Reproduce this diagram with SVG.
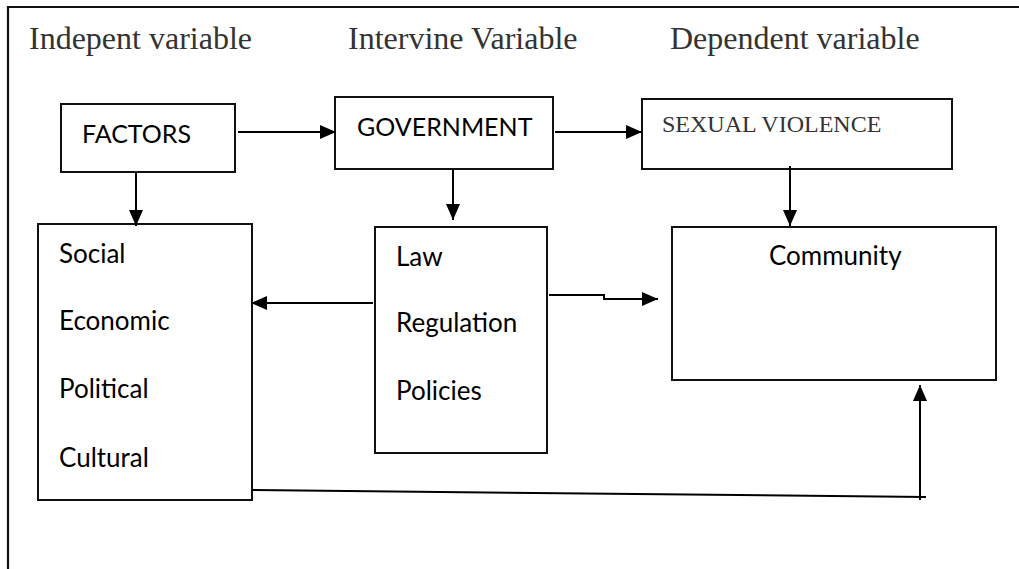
<svg xmlns="http://www.w3.org/2000/svg" width="1019" height="569" viewBox="0 0 1019 569">
  <style>
    .box { fill: #fff; stroke: #111; stroke-width: 2; }
    .hdr { font-family: "Liberation Serif", "Times New Roman", serif; font-size: 32px; fill: #333; }
    .lbl { font-family: "Lato", "Liberation Sans", sans-serif; font-size: 26px; fill: #000; }
    .cap { font-size: 25px; }
    .ser { font-family: "Liberation Serif", "Times New Roman", serif; font-size: 24px; fill: #333; }
    .con { fill: none; stroke: #000; stroke-width: 2; }
  </style>
  <defs>
    <marker id="arr" viewBox="0 0 16 14" refX="16" refY="7" markerWidth="16" markerHeight="14" markerUnits="userSpaceOnUse" orient="auto">
      <path d="M0,0 L16,7 L0,14 Z" fill="#000"/>
    </marker>
  </defs>
  <rect x="0" y="0" width="1019" height="569" fill="#fff"/>
  <path d="M8,569 V7 H1019" fill="none" stroke="#111" stroke-width="2.2"/>
  <g id="headers">
    <text class="hdr" x="29" y="49">Indepent variable</text>
    <text class="hdr" x="348" y="49">Intervine Variable</text>
    <text class="hdr" x="670" y="49">Dependent variable</text>
  </g>
  <g id="factors">
    <rect class="box" x="61" y="104" width="174" height="68"/>
    <text class="lbl cap" x="82" y="143">FACTORS</text>
  </g>
  <g id="government">
    <rect class="box" x="335" y="97" width="218" height="72"/>
    <text class="lbl cap" x="357" y="136">GOVERNMENT</text>
  </g>
  <g id="sexual-violence">
    <rect class="box" x="642" y="99" width="310" height="70"/>
    <text class="ser" x="662" y="132">SEXUAL VIOLENCE</text>
  </g>
  <g id="factor-list">
    <rect class="box" x="38" y="224" width="214" height="276"/>
    <text class="lbl" x="59" y="263">Social</text>
    <text class="lbl" x="59" y="330">Economic</text>
    <text class="lbl" x="59" y="398">Political</text>
    <text class="lbl" x="59" y="467">Cultural</text>
  </g>
  <g id="law">
    <rect class="box" x="375" y="227" width="172" height="226"/>
    <text class="lbl" x="396" y="266">Law</text>
    <text class="lbl" x="396" y="332">Regulation</text>
    <text class="lbl" x="396" y="400">Policies</text>
  </g>
  <g id="community">
    <rect class="box" x="672" y="227" width="324" height="153"/>
    <text class="lbl" x="769" y="265">Community</text>
  </g>
  <g id="connectors">
    <line class="con" x1="238" y1="132" x2="336" y2="132" marker-end="url(#arr)"/>
    <line class="con" x1="136" y1="172" x2="136" y2="226" marker-end="url(#arr)"/>
    <line class="con" x1="555" y1="132" x2="642" y2="132" marker-end="url(#arr)"/>
    <line class="con" x1="453" y1="169" x2="453" y2="220" marker-end="url(#arr)"/>
    <line class="con" x1="790" y1="166" x2="790" y2="226" marker-end="url(#arr)"/>
    <line class="con" x1="373" y1="303" x2="251" y2="303" marker-end="url(#arr)"/>
    <path class="con" d="M549,295 H604 V299 H658" marker-end="url(#arr)"/>
    <line class="con" x1="252" y1="490" x2="926" y2="497"/>
    <line class="con" x1="920" y1="500" x2="920" y2="385" marker-end="url(#arr)"/>
  </g>
</svg>
